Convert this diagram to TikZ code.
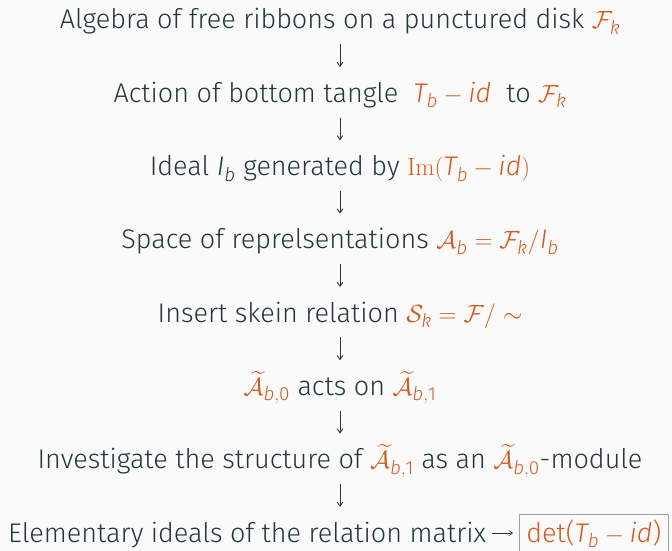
\documentclass[tikz,border=0pt]{standalone}
\usepackage{amsmath}
\usepackage[no-math]{fontspec}
\IfFontExistsTF{Fira Sans Light}{\setmainfont{Fira Sans Light}}{\setmainfont{Fira Sans}}
\usetikzlibrary{arrows.meta}
\definecolor{bg}{HTML}{FAFAFA}
\definecolor{fg}{HTML}{23373B}
\definecolor{acc}{RGB}{214,90,30}
\definecolor{boxline}{HTML}{A0A0A0}
\newcommand\tI[1]{\text{\itshape #1}}
\newcommand\tU[1]{\text{\upshape #1}}
\newcommand\ac[1]{\textcolor{acc}{#1}}
\begin{document}
\begin{tikzpicture}[x=1pt,y=-1pt,
  every node/.style={text=fg,font=\fontsize{27}{32}\selectfont},
  line/.style={anchor=base,inner sep=0pt,text height=21pt,text depth=8pt},
  flow/.style={draw=fg,line width=0.9pt,-{Straight Barb[angle=70:5pt]},shorten <=7pt,shorten >=14pt},
  resbox/.style={draw=boxline,line width=0.8pt,inner xsep=7pt,inner ysep=5pt,text depth=12pt,anchor=base west}]
\fill[bg] (0,0) rectangle (672,551);
\useasboundingbox (0,0) rectangle (672,551);
\node[line] (n1) at (340,29) {Algebra of free ribbons on a punctured disk \ac{$\mathcal{F}_{\tI{k}}$}};
\node[line] (n2) at (340,102.3) {Action of bottom tangle \ \ac{$\tI{T}_{\tI{b}} - \tI{id}$} \ to \ac{$\mathcal{F}_{\tI{k}}$}};
\node[line] (n3) at (340,175.6) {Ideal $\tI{I}_{\tI{b}}$ generated by \ac{$\mathrm{Im}(\tI{T}_{\tI{b}} - \tI{id})$}};
\node[line] (n4) at (340,248.9) {Space of reprelsentations \ac{$\mathcal{A}_{\tI{b}} = \mathcal{F}_{\tI{k}}/\tI{I}_{\tI{b}}$}};
\node[line] (n5) at (340,322.2) {Insert skein relation \ac{$\mathcal{S}_{\tI{k}} = \mathcal{F}/\sim$}};
\node[line] (n6) at (340,395.5) {\ac{$\widetilde{\mathcal{A}}_{\tI{b},\tU{0}}$} acts on \ac{$\widetilde{\mathcal{A}}_{\tI{b},\tU{1}}$}};
\node[line] (n7) at (340,468.8) {Investigate the structure of \ac{$\widetilde{\mathcal{A}}_{\tI{b},\tU{1}}$} as an \ac{$\widetilde{\mathcal{A}}_{\tI{b},\tU{0}}$}-module};
\node[line,anchor=base west] (n8) at (8,542.1) {Elementary ideals of the relation matrix};
\node[resbox] (res) at (519,542.1) {\ac{det($\tI{T}_{\tI{b}} - \tI{id}$)}};
\coordinate (n8top) at (n7.south |- n8.north);
\draw[flow] (n1.south) -- (n2.north);
\draw[flow] (n2.south) -- (n3.north);
\draw[flow] (n3.south) -- (n4.north);
\draw[flow] (n4.south) -- (n5.north);
\draw[flow] (n5.south) -- (n6.north);
\draw[flow] (n6.south) -- (n7.north);
\draw[flow] (n7.south) -- (n8top);
\draw[draw=fg,line width=0.6pt,-{Straight Barb[angle=70:4.5pt]},shorten <=6pt,shorten >=6pt] ([yshift=2.5pt]n8.east) -- ([yshift=2.5pt]n8.east -| res.west);
\end{tikzpicture}
\end{document}
